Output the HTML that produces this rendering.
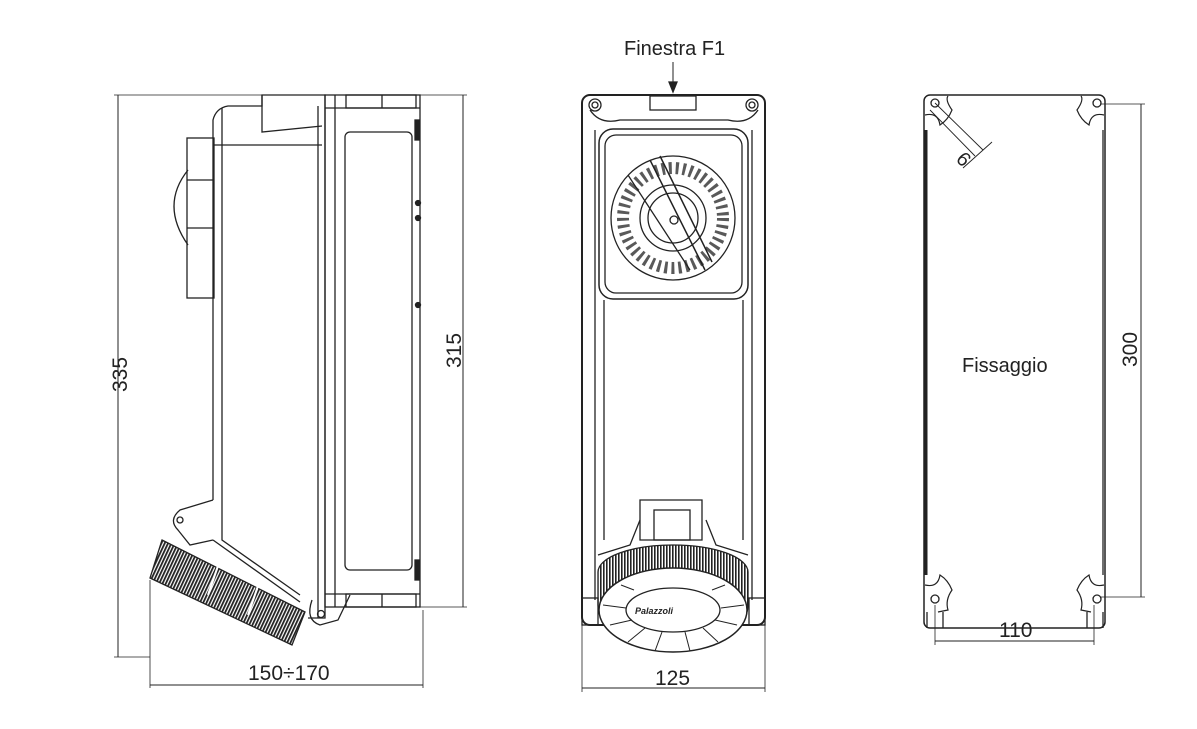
<!DOCTYPE html>
<html><head><meta charset="utf-8"><style>
html,body{margin:0;padding:0;background:#fff;}
svg{display:block;}
text{font-family:"Liberation Sans",sans-serif;fill:#222;}
</style></head><body>
<svg width="1197" height="729" viewBox="0 0 1197 729" xmlns="http://www.w3.org/2000/svg">
<defs>
<pattern id="rib" width="3" height="10" patternUnits="userSpaceOnUse"><rect width="3" height="10" fill="#fff"/><rect width="1.6" height="10" fill="#222"/></pattern>
<pattern id="ribr" width="3" height="10" patternUnits="userSpaceOnUse" patternTransform="rotate(25)"><rect width="3" height="10" fill="#fff"/><rect width="1.8" height="10" fill="#222"/></pattern>
</defs>
<g fill="none" stroke="#222" stroke-width="1.3">
<line x1="118" y1="95" x2="118" y2="657" stroke-width="1"/>
<line x1="114" y1="95" x2="262" y2="95" stroke-width="0.8"/>
<line x1="114" y1="657" x2="150" y2="657" stroke-width="0.8"/>
<line x1="463" y1="95" x2="463" y2="607" stroke-width="1"/>
<line x1="415" y1="95" x2="467" y2="95" stroke-width="0.8"/>
<line x1="420" y1="607" x2="467" y2="607" stroke-width="0.8"/>
<line x1="150" y1="685" x2="423" y2="685" stroke-width="1"/>
<line x1="150" y1="580" x2="150" y2="688" stroke-width="0.8"/>
<line x1="423" y1="610" x2="423" y2="688" stroke-width="0.8"/>
<path d="M213 500 L213 120 Q216 108 228 106 L262 106 L262 95 L325 95 L325 618 L308 618"/>
<line x1="222" y1="108" x2="222" y2="470"/>
<line x1="213" y1="145" x2="322" y2="145"/>
<line x1="318" y1="106" x2="318" y2="618"/>
<path d="M262 95 L262 132 L322 126"/>
<path d="M222 470 L222 540 L300 595"/>
<path d="M213 540 L300 602"/>
<rect x="325" y="95" width="95" height="512"/>
<rect x="345" y="132" width="67" height="438" rx="5"/>
<line x1="335" y1="95" x2="335" y2="607"/>
<line x1="325" y1="108" x2="420" y2="108"/>
<line x1="325" y1="594" x2="420" y2="594"/>
<rect x="346" y="95" width="70" height="13"/><rect x="346" y="594" width="70" height="13"/>
<line x1="382" y1="95" x2="382" y2="108"/><line x1="382" y1="594" x2="382" y2="607"/>
<rect x="415" y="120" width="4" height="20" fill="#222"/><rect x="415" y="560" width="4" height="20" fill="#222"/>
<circle cx="418" cy="203" r="2.5" fill="#222"/><circle cx="418" cy="218" r="2.5" fill="#222"/><circle cx="418" cy="305" r="2.5" fill="#222"/>
<rect x="187" y="138" width="27" height="160"/>
<line x1="187" y1="180" x2="214" y2="180"/><line x1="187" y1="228" x2="214" y2="228"/>
<path d="M188 170 Q160 205 188 245"/>
<path d="M213 500 L180 510 Q168 520 178 530 L190 545 L213 540"/>
<circle cx="180" cy="520" r="3"/>
<path d="M312 600 Q305 620 320 625 L338 620 L350 595"/>
<circle cx="321" cy="614" r="3.5"/>
<path d="M162 540 L305 612 L292 645 L150 578 Z" fill="url(#ribr)"/>
<line x1="220" y1="560" x2="208" y2="595" stroke="#fff" stroke-width="2"/>
<line x1="260" y1="580" x2="248" y2="615" stroke="#fff" stroke-width="2"/>
</g>
<text x="0" y="0" font-size="21" transform="translate(127,392) rotate(-90)">335</text>
<text x="0" y="0" font-size="21" transform="translate(461,368) rotate(-90)">315</text>
<text x="248" y="680" font-size="21">150÷170</text>

<g fill="none" stroke="#222" stroke-width="1.3">
<rect x="582" y="95" width="183" height="530" rx="8" stroke-width="2"/>
<line x1="595" y1="130" x2="595" y2="600"/><line x1="752" y1="130" x2="752" y2="600"/>
<line x1="604" y1="300" x2="604" y2="540"/><line x1="743" y1="300" x2="743" y2="540"/>
<path d="M590 110 Q600 125 620 120 L728 120 Q748 125 758 110"/>
<rect x="650" y="96" width="46" height="14"/>
<circle cx="595" cy="105" r="6"/><circle cx="595" cy="105" r="3"/>
<circle cx="752" cy="105" r="6"/><circle cx="752" cy="105" r="3"/>
<rect x="599" y="129" width="149" height="170" rx="14" stroke-width="1.5"/>
<rect x="605" y="135" width="137" height="158" rx="11"/>
<circle cx="673" cy="218" r="62"/>
<circle cx="673" cy="218" r="50" stroke-dasharray="3 4" stroke-width="12" opacity="0.75"/>
<circle cx="673" cy="218" r="33"/>
<circle cx="673" cy="218" r="25"/>
<circle cx="674" cy="220" r="4"/>
<line x1="650" y1="160" x2="705" y2="270" stroke-width="1.5"/>
<line x1="660" y1="156" x2="712" y2="262" stroke-width="1.5"/>
<line x1="628" y1="175" x2="690" y2="270"/>
<path d="M640 500 L702 500 L702 540 L640 540 Z"/>
<rect x="654" y="510" width="36" height="30"/>
<path d="M598 555 L630 545 L640 520 M748 555 L716 545 L706 520"/>
<path d="M598 572 A75 27 0 0 1 748 572 L748 605 A75 45 0 0 1 598 605 Z" fill="url(#rib)"/>
<ellipse cx="673" cy="610" rx="74" ry="42" fill="#fff" stroke-width="1.5"/>
<ellipse cx="673" cy="610" rx="47" ry="22"/>
<g stroke-width="1">
<line x1="603" y1="605" x2="626" y2="608"/><line x1="610" y1="625" x2="632" y2="620"/><line x1="628" y1="642" x2="645" y2="628"/>
<line x1="655" y1="651" x2="662" y2="632"/><line x1="690" y1="651" x2="685" y2="632"/><line x1="718" y1="642" x2="703" y2="628"/>
<line x1="737" y1="625" x2="715" y2="620"/><line x1="744" y1="605" x2="721" y2="608"/><line x1="725" y1="585" x2="712" y2="590"/><line x1="621" y1="585" x2="634" y2="590"/>
</g>
<rect x="582" y="598" width="16" height="27"/><rect x="749" y="598" width="16" height="27"/>
<line x1="582" y1="688" x2="765" y2="688" stroke-width="1"/>
<line x1="582" y1="625" x2="582" y2="692" stroke-width="0.8"/><line x1="765" y1="625" x2="765" y2="692" stroke-width="0.8"/>
<line x1="673" y1="62" x2="673" y2="86" stroke-width="1"/>
<path d="M669 82 L673 92 L677 82 Z" fill="#222"/>
</g>
<text x="635" y="614" font-size="9" font-style="italic" font-weight="bold">Palazzoli</text>
<text x="624" y="55" font-size="20">Finestra F1</text>
<text x="655" y="685" font-size="21">125</text>

<g fill="none" stroke="#222" stroke-width="1.3">
<rect x="924" y="95" width="181" height="533" rx="6" stroke-width="1.5"/>
<line x1="926" y1="130" x2="926" y2="575" stroke-width="3"/>
<line x1="1103" y1="130" x2="1103" y2="575"/>
<g stroke-width="1.2">
<path d="M925 115 Q938 112 940 125 Q948 120 952 110 Q945 100 948 96"/>
<path d="M1104 115 Q1091 112 1089 125 Q1081 120 1077 110 Q1084 100 1081 96"/>
<path d="M925 585 Q938 588 940 575 Q948 580 952 590 Q945 600 948 610 L938 612"/>
<path d="M1104 585 Q1091 588 1089 575 Q1081 580 1077 590 Q1084 600 1081 610 L1091 612"/>
</g>
<circle cx="935" cy="103" r="4"/><circle cx="1097" cy="103" r="4"/>
<circle cx="935" cy="599" r="4"/><circle cx="1097" cy="599" r="4"/>
<path d="M927 612 L927 628 M943 612 L943 628 M1087 612 L1087 628 M1103 612 L1103 628"/>
<line x1="935" y1="103" x2="983" y2="150" stroke-width="0.9"/>
<line x1="930" y1="110" x2="975" y2="156" stroke-width="0.9"/>
<line x1="963" y1="168" x2="992" y2="142" stroke-width="0.9"/>
<line x1="1141" y1="104" x2="1141" y2="597" stroke-width="1"/>
<line x1="1100" y1="104" x2="1145" y2="104" stroke-width="0.8"/>
<line x1="1100" y1="597" x2="1145" y2="597" stroke-width="0.8"/>
<line x1="935" y1="641" x2="1094" y2="641" stroke-width="1"/>
<line x1="935" y1="605" x2="935" y2="645" stroke-width="0.8"/><line x1="1094" y1="605" x2="1094" y2="645" stroke-width="0.8"/>
</g>
<text x="0" y="0" font-size="20" transform="translate(955,160) rotate(45)">6</text>
<text x="962" y="372" font-size="20">Fissaggio</text>
<text x="0" y="0" font-size="21" transform="translate(1137,367) rotate(-90)">300</text>
<text x="999" y="637" font-size="21">110</text>
</svg>
</body></html>
